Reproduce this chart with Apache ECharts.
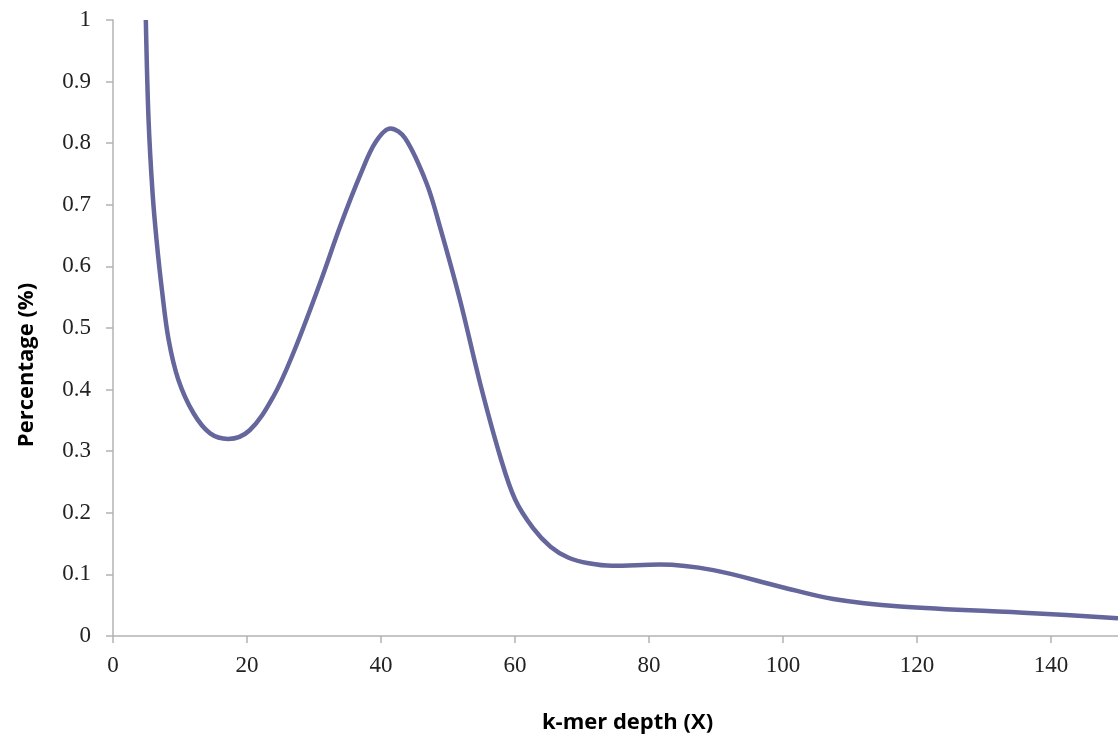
<!DOCTYPE html>
<html>
<head>
<meta charset="utf-8">
<script src="https://cdn.jsdelivr.net/npm/echarts@6/dist/echarts.min.js"></script>
<style>
  html, body { margin: 0; padding: 0; background: #fff; }
  #chart { width: 1118px; height: 742px; }
</style>
</head>
<body>
<div id="chart"></div>
<script>
// k-mer depth (X) and percentage
const depth = [4.9, 5.3, 5.9, 6.5, 7.3, 8.3, 9.75, 12, 14.5, 17.2, 20.4, 23.9, 26.9, 30.9, 34, 37, 39.2, 41.4, 43.6, 46.8, 48.8, 51.8, 54.8, 57.8, 60, 62.7, 65.3, 68, 71, 74.5, 81.6, 89.6, 99.6, 107.5, 117.5, 137.3, 150];
const percentage = [1.0, 0.84, 0.72, 0.643, 0.562, 0.481, 0.416, 0.362, 0.329, 0.32, 0.334, 0.388, 0.459, 0.573, 0.668, 0.751, 0.802, 0.824, 0.808, 0.735, 0.664, 0.545, 0.41, 0.291, 0.222, 0.175, 0.145, 0.127, 0.118, 0.114, 0.116, 0.107, 0.08, 0.06, 0.048, 0.037, 0.029];

const xTitle = 'k-mer depth (X)';
const yTitle = 'Percentage (%)';

const chart = echarts.init(document.getElementById('chart'));

const axisGray = '#b3b3b3';
const labelFont = {
  fontFamily: '"Liberation Serif", "DejaVu Serif", serif',
  fontSize: 23,
  color: '#222'
};
const titleFont = {
  fontFamily: '"Open Sans", "Noto Sans", sans-serif',
  fontWeight: 'bold',
  fontSize: 22,
  color: '#000'
};

chart.setOption({
  animation: false,
  grid: { left: 113, right: 0, top: 20, bottom: 106 },
  xAxis: {
    type: 'value',
    min: 0,
    max: 150,
    interval: 20,
    name: xTitle,
    nameLocation: 'middle',
    nameGap: 76,
    nameTextStyle: Object.assign({ padding: [0, 0, 0, 24] }, titleFont),
    splitLine: { show: false },
    axisLine: { lineStyle: { color: axisGray, width: 1.5 } },
    axisTick: { length: 7, lineStyle: { color: axisGray, width: 1.5 } },
    axisLabel: Object.assign({ margin: 18, showMaxLabel: false }, labelFont)
  },
  yAxis: {
    type: 'value',
    min: 0,
    max: 1,
    interval: 0.1,
    name: yTitle,
    nameLocation: 'middle',
    nameGap: 75,
    nameTextStyle: Object.assign({ padding: [0, 74, 0, 0] }, titleFont),
    splitLine: { show: false },
    axisLine: { show: true, lineStyle: { color: axisGray, width: 1.5 } },
    axisTick: { show: true, length: 7, lineStyle: { color: axisGray, width: 1.5 } },
    axisLabel: Object.assign({
      margin: 22,
      formatter: function (v) {
        if (v === 0) return '0';
        if (v === 1) return '1';
        return v.toFixed(1);
      }
    }, labelFont)
  },
  series: [
    {
      type: 'line',
      data: depth.map((d, i) => [d, percentage[i]]),
      smooth: 0.35,
      showSymbol: false,
      clip: true,
      lineStyle: { color: '#64669c', width: 4.5 }
    }
  ]
});
</script>
</body>
</html>
